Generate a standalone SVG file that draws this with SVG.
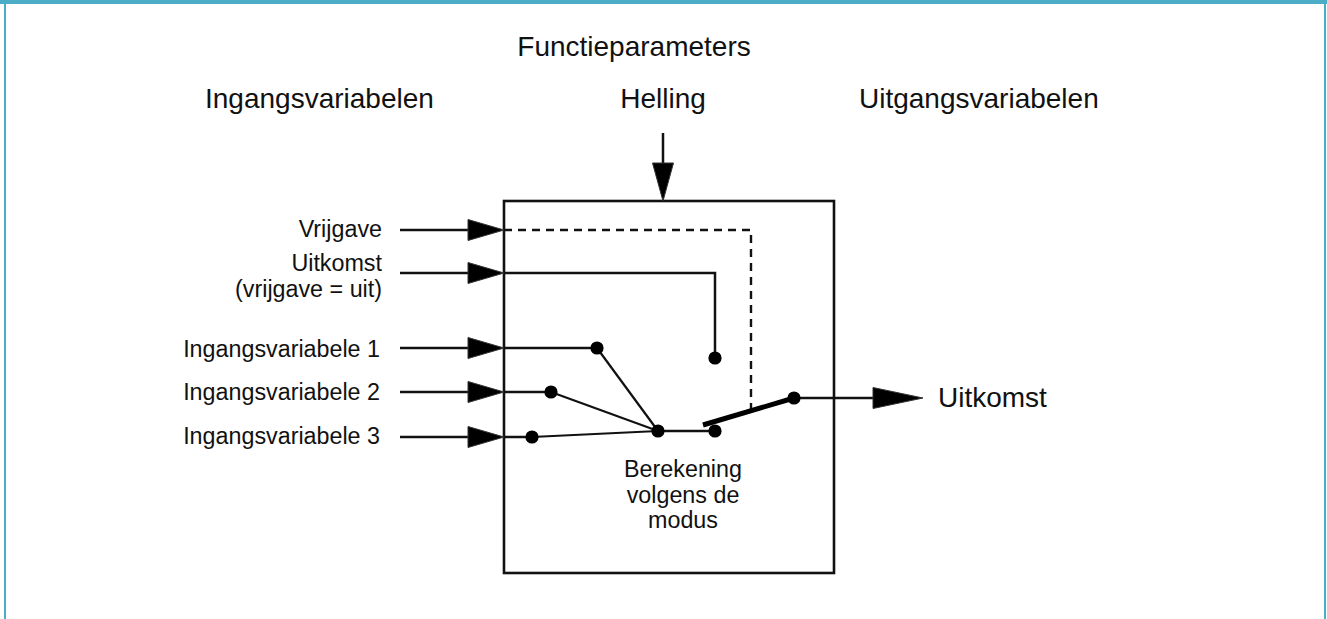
<svg xmlns="http://www.w3.org/2000/svg" width="1327" height="619" viewBox="0 0 1327 619">
<style>
  .hdr { font-family: "Liberation Sans", Arial, sans-serif; font-size: 28px; fill: #111; }
  .lbl { font-family: "Liberation Sans", Arial, sans-serif; font-size: 23.3px; fill: #111; }
  .ln { stroke: #111; stroke-width: 2.5; fill: none; }
  .thin { stroke: #111; stroke-width: 2.2; fill: none; }
  .dash { stroke: #111; stroke-width: 2.4; fill: none; stroke-dasharray: 8 6; }
  .head { fill: #000; stroke: #333; stroke-width: 1; }
  .dot { fill: #000; }
</style>
<rect x="0" y="0" width="1327" height="619" fill="#fff"/>
<g id="frame">
  <rect x="0" y="0" width="1327" height="4" fill="#4BAEC6"/>
  <rect x="4" y="0" width="2" height="619" fill="#4BAEC6"/>
  <rect x="1324" y="0" width="2" height="619" fill="#4BAEC6"/>
</g>
<g id="headers">
  <text class="hdr" x="634" y="56" text-anchor="middle">Functieparameters</text>
  <text class="hdr" x="205" y="108">Ingangsvariabelen</text>
  <text class="hdr" x="663" y="108" text-anchor="middle">Helling</text>
  <text class="hdr" x="859" y="108">Uitgangsvariabelen</text>
</g>
<g id="block">
  <rect x="504" y="201" width="330" height="372" fill="none" stroke="#111" stroke-width="2.6"/>
  <text class="lbl" x="683" y="477" text-anchor="middle">Berekening</text>
  <text class="lbl" x="683" y="503" text-anchor="middle">volgens de</text>
  <text class="lbl" x="683" y="528" text-anchor="middle">modus</text>
</g>
<g id="inputs">
  <text class="lbl" x="382" y="237" text-anchor="end">Vrijgave</text>
  <text class="lbl" x="382" y="271" text-anchor="end">Uitkomst</text>
  <text class="lbl" x="382" y="297" text-anchor="end">(vrijgave = uit)</text>
  <text class="lbl" x="380" y="357" text-anchor="end">Ingangsvariabele 1</text>
  <text class="lbl" x="380" y="400" text-anchor="end">Ingangsvariabele 2</text>
  <text class="lbl" x="380" y="444" text-anchor="end">Ingangsvariabele 3</text>
</g>
<g id="output">
  <text class="hdr" x="938" y="407">Uitkomst</text>
</g>
<g id="connectors">
  <!-- top parameter arrow -->
  <line class="ln" x1="663" y1="133" x2="663" y2="165"/>
  <polygon class="head" points="652.5,163 673.5,163 663,201"/>
  <!-- input arrows -->
  <line class="ln" x1="400" y1="230" x2="470" y2="230"/>
  <polygon class="head" points="468,219.5 504,230 468,240.5"/>
  <line class="ln" x1="400" y1="273" x2="470" y2="273"/>
  <polygon class="head" points="468,262.5 504,273 468,283.5"/>
  <line class="ln" x1="400" y1="348" x2="470" y2="348"/>
  <polygon class="head" points="468,337.5 504,348 468,358.5"/>
  <line class="ln" x1="400" y1="392" x2="470" y2="392"/>
  <polygon class="head" points="468,381.5 504,392 468,402.5"/>
  <line class="ln" x1="400" y1="437" x2="470" y2="437"/>
  <polygon class="head" points="468,426.5 504,437 468,447.5"/>
  <!-- inner wiring -->
  <polyline class="dash" points="504,230 751,230 751,410"/>
  <polyline class="ln" points="504,273 715,273 715,358"/>
  <line class="ln" x1="504" y1="348" x2="597" y2="348"/>
  <line class="thin" x1="597" y1="348" x2="658" y2="431"/>
  <line class="ln" x1="504" y1="392" x2="551" y2="392"/>
  <line class="thin" x1="551" y1="392" x2="658" y2="431"/>
  <line class="ln" x1="504" y1="437" x2="532" y2="437"/>
  <line class="thin" x1="532" y1="437" x2="658" y2="431"/>
  <line class="ln" x1="658" y1="431" x2="715" y2="431"/>
  <line x1="703" y1="425" x2="794" y2="398" stroke="#000" stroke-width="5"/>
  <line class="ln" x1="794" y1="398" x2="875" y2="398"/>
  <polygon class="head" points="873,387.5 923,398 873,408.5"/>
  <!-- dots -->
  <circle class="dot" cx="597" cy="348" r="6.6"/>
  <circle class="dot" cx="551" cy="392" r="6.6"/>
  <circle class="dot" cx="532" cy="437" r="6.6"/>
  <circle class="dot" cx="658" cy="431" r="6.6"/>
  <circle class="dot" cx="715" cy="431" r="6.6"/>
  <circle class="dot" cx="715" cy="358" r="6.6"/>
  <circle class="dot" cx="794" cy="398" r="6.6"/>
</g>
</svg>
